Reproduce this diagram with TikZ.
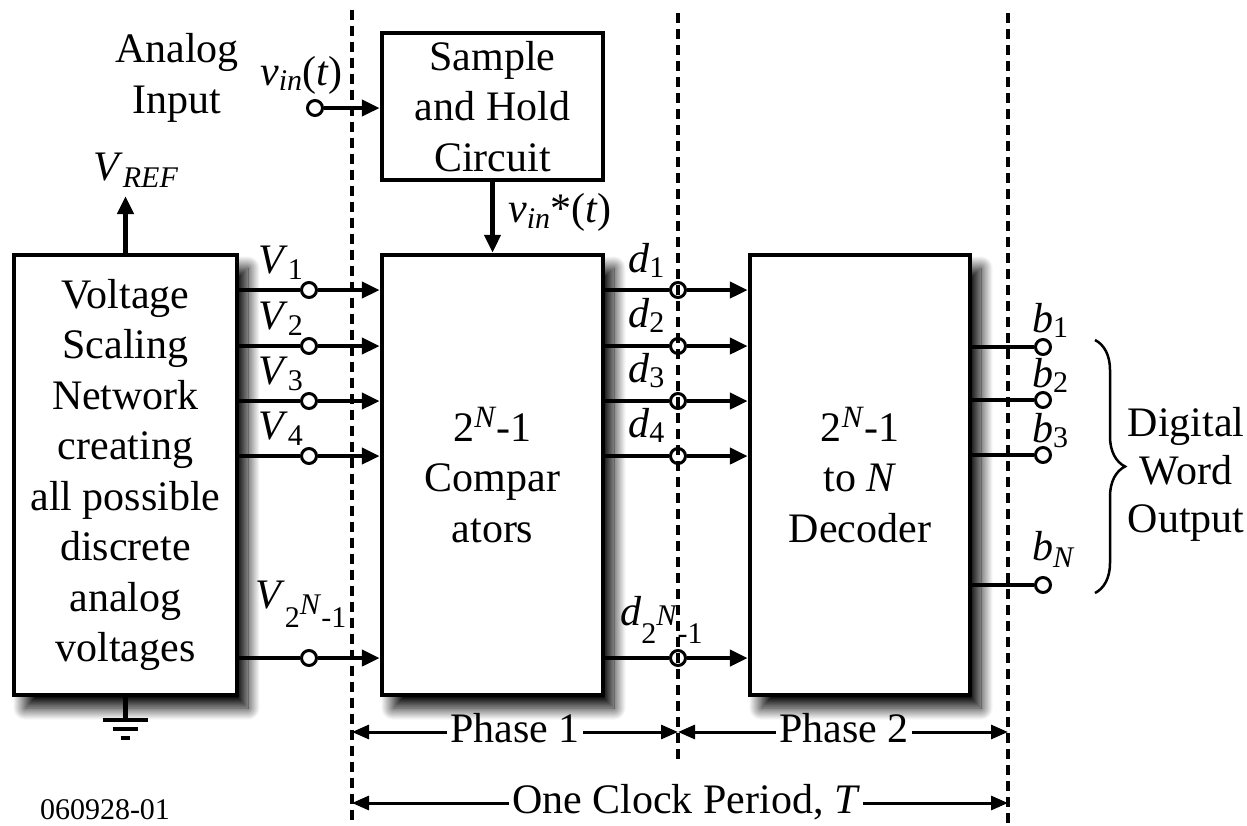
\documentclass[tikz,border=0pt]{standalone}
\usepackage{fontspec}
\setmainfont{Liberation Serif}
\usetikzlibrary{arrows.meta,shadows.blur,decorations.pathreplacing,calc}
\newcommand{\lowr}[2][6pt]{\raisebox{-#1}{\fontsize{30}{30}\selectfont #2}}
\newcommand{\highr}[2][14pt]{\raisebox{#1}{\fontsize{31}{31}\selectfont #2}}
\begin{document}
\begin{tikzpicture}[x=1pt,y=-1pt,
  font=\fontsize{42}{50.5}\selectfont,
  box/.style={draw,line width=4.5pt,fill=white,inner sep=0pt,align=center},
  shbox/.style={box,blur shadow={shadow xshift=11pt,shadow yshift=-13pt,shadow blur radius=12pt,shadow blur steps=24,shadow opacity=100}},
  port/.style={circle,draw,line width=3pt,fill=white,minimum size=15pt,inner sep=0pt},
  wire/.style={line width=4.5pt},
  arr/.style={line width=4.5pt,-{Triangle[length=18pt,width=16pt]}},
  dimarr/.style={line width=3pt,-{Triangle[length=17pt,width=14pt]}},
  divider/.style={line width=3.2pt,dash pattern=on 10pt off 6pt},
  lbl/.style={inner sep=0pt,anchor=base west}]
\useasboundingbox (0,0) rectangle (1247,825);

% blocks
\node[shbox,minimum width=223pt,minimum height=440pt] (vs) at (125.5,475)
  {Voltage\\Scaling\\Network\\creating\\all possible\\discrete\\analog\\voltages};
\node[shbox,minimum width=221pt,minimum height=440pt] (cmp) at (492.5,475)
  {2\highr{\textit{N}}-1\\Compar\\ators};
\node[shbox,minimum width=220pt,minimum height=440pt] (dec) at (860,475)
  {2\highr{\textit{N}}-1\\to \textit{N}\\Decoder};
\node[box,minimum width=221pt,minimum height=147pt] (sh) at (492.5,106.5)
  {Sample\\and Hold\\Circuit};

% ports
\node[port] (pin) at (315,108) {};
\foreach \i/\y in {1/290,2/346,3/401,4/456,5/658} {
  \node[port] (pv\i) at (309,\y) {};
  \node[port] (pd\i) at (678,\y) {};
}
\foreach \i/\y in {1/347,2/400,3/455,4/585} {
  \node[port] (pb\i) at (1043,\y) {};
}

% wires
\foreach \i in {1,...,5} {
  \draw[wire] (pv\i -| vs.east) -- (pv\i);
  \draw[arr] (pv\i) -- (pv\i -| cmp.west);
  \draw[wire] (pd\i -| cmp.east) -- (pd\i);
  \draw[arr] (pd\i) -- (pd\i -| dec.west);
}
\foreach \i in {1,...,4} {
  \draw[wire] (pb\i -| dec.east) -- (pb\i);
}
\draw[arr] (pin) -- (pin -| sh.west);
\draw[arr] (sh.south) -- (cmp.north);
\coordinate (vref) at (125.5,196);
\draw[arr] (vs.north) -- (vref);

% ground
\coordinate (g) at (125.5,720);
\draw[wire] (vs.south) -- (g);
\draw[wire] ($(g)+(-23,0)$) -- ($(g)+(22,0)$);
\draw[wire] ($(g)+(-13,9)$) -- ($(g)+(12,9)$);
\draw[wire] ($(g)+(-5,18)$) -- ($(g)+(4,18)$);

% dividers
\coordinate (t1) at (352,10);  \coordinate (u1) at (352,825);
\coordinate (t2) at (678,13);  \coordinate (u2) at (678,760);
\coordinate (t3) at (1008,13); \coordinate (u3) at (1008,825);
\draw[divider] (t1) -- (u1);
\draw[divider] (t2) -- (u2);
\draw[divider] (t3) -- (u3);

% phase / clock dimension arrows
\node[anchor=base,inner sep=3pt] (ph1) at (515,742) {Phase 1};
\node[anchor=base,inner sep=3pt] (ph2) at (844,742) {Phase 2};
\node[anchor=base,inner sep=3pt] (clk) at (686,813) {One Clock Period, \textit{T}};
\coordinate (p1l) at ($(ph1.base west)+(0,-10)$);
\coordinate (p1r) at ($(ph1.base east)+(0,-10)$);
\coordinate (p2l) at ($(ph2.base west)+(0,-10)$);
\coordinate (p2r) at ($(ph2.base east)+(0,-10)$);
\coordinate (cl) at ($(clk.base west)+(0,-10)$);
\coordinate (cr) at ($(clk.base east)+(0,-10)$);
\draw[dimarr] (p1l) -- (p1l -| t1);
\draw[dimarr] (p1r) -- (p1r -| t2);
\draw[dimarr] (p2l) -- (p2l -| t2);
\draw[dimarr] (p2r) -- (p2r -| t3);
\draw[dimarr] (cl) -- (cl -| t1);
\draw[dimarr] (cr) -- (cr -| t3);

% brace
\draw[line width=2.5pt,decorate,decoration={brace,amplitude=30pt}] (1095,340) -- (1095,593);

% labels
\node[align=center] (ai) at (177,78) {Analog\\Input};
\node[lbl] (lin) at (260,85) {\textit{v}\lowr[5pt]{\textit{in}}(\textit{t})};
\node[lbl] (lins) at (508,222) {\textit{v}\lowr[6pt]{\textit{in}}*(\textit{t})};
\node[lbl] (lref) at (93,180) {\textit{V}\lowr[7pt]{\textit{REF}}};
\node[lbl] (lv1) at (258,273) {\textit{V}\lowr{1}};
\node[lbl] (lv2) at (258,329) {\textit{V}\lowr{2}};
\node[lbl] (lv3) at (258,384) {\textit{V}\lowr{3}};
\node[lbl] (lv4) at (258,439) {\textit{V}\lowr{4}};
\node[lbl] (lv5) at (255,608) {\textit{V}\lowr[19pt]{2\raisebox{13pt}{\textit{N}}-1}};
\node[lbl] (ld1) at (628,272) {\textit{d}\lowr[5pt]{1}};
\node[lbl] (ld2) at (628,327) {\textit{d}\lowr[5pt]{2}};
\node[lbl] (ld3) at (628,382) {\textit{d}\lowr[5pt]{3}};
\node[lbl] (ld4) at (628,437) {\textit{d}\lowr[5pt]{4}};
\node[lbl] (ld5) at (620,625) {\textit{d}\lowr[18pt]{2\raisebox{18pt}{\textit{N}}-1}};
\node[lbl] (lb1) at (1032,332) {\textit{b}\lowr[5pt]{1}};
\node[lbl] (lb2) at (1032,387) {\textit{b}\lowr[5pt]{2}};
\node[lbl] (lb3) at (1032,442) {\textit{b}\lowr[5pt]{3}};
\node[lbl] (lbn) at (1032,560) {\textit{b}\lowr[7pt]{\textit{N}}};
\node[align=center,font=\fontsize{42}{48}\selectfont] (dwo) at (1186,474) {Digital\\Word\\Output};
\node[font=\fontsize{30}{30}\selectfont] (code) at (105,810) {060928-01};
\end{tikzpicture}
\end{document}
